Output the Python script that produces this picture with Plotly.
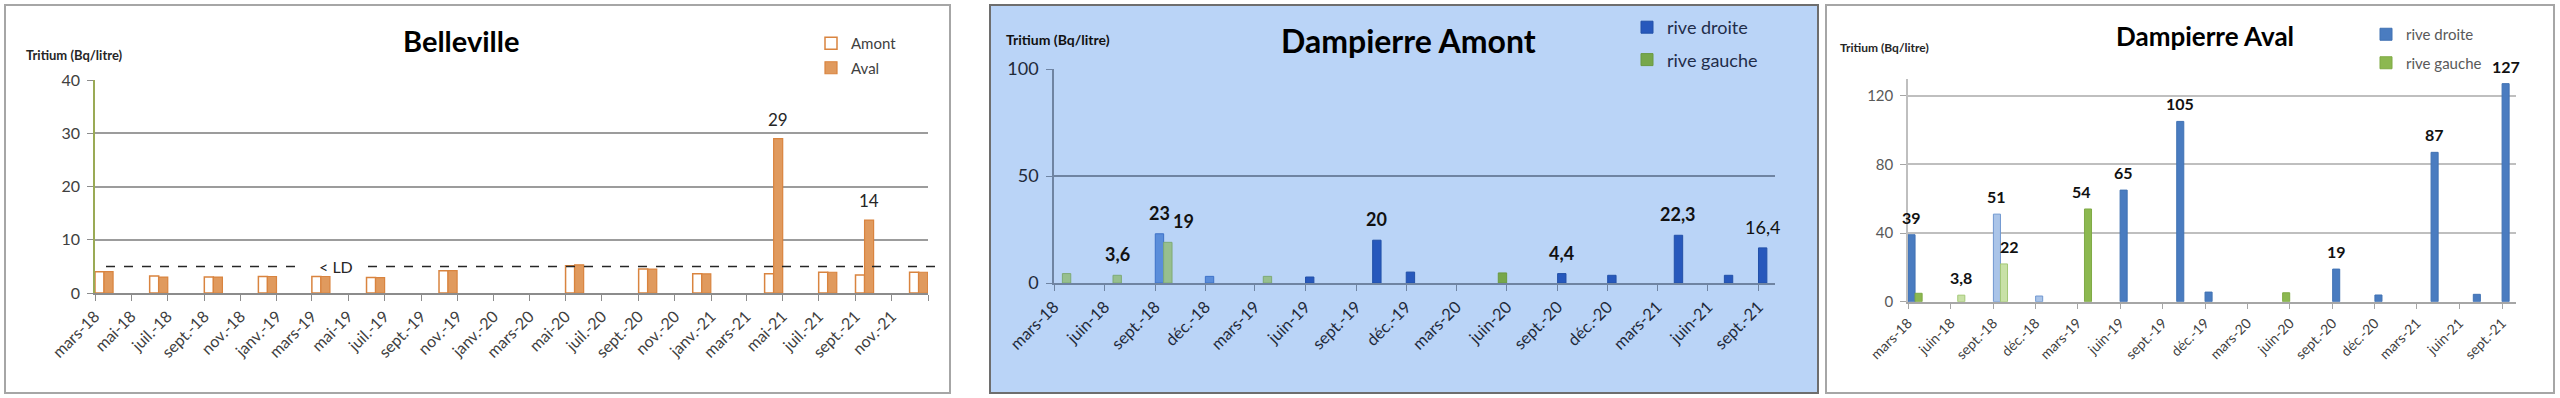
import plotly.graph_objects as go
import pandas as pd

W, H = 2560, 398
FONT = "Lato"

# ---------------- data ----------------
# Belleville (Amont / Aval)
BV_DATES = ["2018-03", "2018-06", "2018-09", "2018-12", "2019-03", "2019-06", "2019-10",
            "2020-05", "2020-09", "2020-12", "2021-04", "2021-07", "2021-09", "2021-12"]
BV_AMONT = [4.0, 3.2, 3.0, 3.1, 3.1, 2.9, 4.2, 5.1, 4.5, 3.6, 3.6, 3.9, 3.4, 3.9]
BV_AVAL = [4.0, 3.0, 3.0, 3.1, 3.1, 2.9, 4.2, 5.3, 4.5, 3.6, 29.0, 3.9, 13.7, 3.9]
BV_AVAL_LABELS = ["", "", "", "", "", "", "", "", "", "", "29", "", "14", ""]
BV_LD = 5
BV_TICKS = ["mars-18", "mai-18", "juil.-18", "sept.-18", "nov.-18", "janv.-19", "mars-19",
            "mai-19", "juil.-19", "sept.-19", "nov.-19", "janv.-20", "mars-20", "mai-20",
            "juil.-20", "sept.-20", "nov.-20", "janv.-21", "mars-21", "mai-21", "juil.-21",
            "sept.-21", "nov.-21"]

# Dampierre Amont
DA_RD_DATES = ["2018-09", "2018-12", "2019-06", "2019-10", "2019-12", "2020-09", "2020-12",
               "2021-04", "2021-07", "2021-09"]
DA_RD = [23, 3.1, 2.8, 20, 5.1, 4.4, 3.6, 22.3, 3.6, 16.4]
DA_RD_LABELS = ["23", "", "", "20", "", "4,4", "", "22,3", "", "16,4"]
DA_RG_DATES = ["2018-03", "2018-06", "2018-09", "2019-03", "2020-05"]
DA_RG = [4.4, 3.6, 19, 3.1, 4.7]
DA_RG_LABELS = ["", "3,6", "19", "", ""]

# Dampierre Aval
DV_RD_DATES = ["2018-03", "2018-09", "2018-12", "2019-06", "2019-10", "2019-12", "2020-09",
               "2020-12", "2021-04", "2021-07", "2021-09"]
DV_RD = [39, 51, 3.3, 65, 105, 5.6, 19, 3.9, 87, 4.3, 127]
DV_RD_LABELS = ["39", "51", "", "65", "105", "", "19", "", "87", "", "127"]
DV_RG_DATES = ["2018-03", "2018-06", "2018-09", "2019-03", "2020-05"]
DV_RG = [4.9, 3.8, 22, 54, 5.2]
DV_RG_LABELS = ["", "3,8", "22", "54", ""]

DAMP_TICKS = ["mars-18", "juin-18", "sept.-18", "déc.-18", "mars-19", "juin-19", "sept.-19",
              "déc.-19", "mars-20", "juin-20", "sept.-20", "déc.-20", "mars-21", "juin-21",
              "sept.-21"]

# ---------------- styling helpers ----------------
MONTH_MS = 30.436875 * 86400000
HALF = MONTH_MS / 2

# style-only sets: lighter bars, plain (non bold) labels, label nudges
DA_RD_FADED = {"2018-09", "2018-12"}
DA_RG_FADED = {"2018-03", "2018-06", "2018-09", "2019-03"}
DV_RD_FADED = {"2018-09", "2018-12"}
DV_RG_FADED = {"2018-06", "2018-09"}
PLAIN_LABELS = {("DA", "16,4")}
LABEL_XSHIFT = {("DA", "19"): 16, ("DV", "22"): 6, ("DV", "54"): -7}


def px(x):
    return x / W


def py(y):
    return 1 - y / H


def month_start(d):
    return d + "-01"


def label_x(d, offset):
    return (pd.Timestamp(month_start(d)) + pd.Timedelta(milliseconds=offset + HALF / 2)).isoformat()


fig = go.Figure()


def add_bars(dates, vals, name, xa, ya, color, line, offset, legend, faded=None,
             fcolor=None, fline=None, lw=1.0, group=None):
    faded = faded or set()
    norm = [(d, v) for d, v in zip(dates, vals) if d not in faded]
    fad = [(d, v) for d, v in zip(dates, vals) if d in faded]
    fig.add_trace(go.Bar(
        x=[month_start(d) for d, _ in norm], y=[v for _, v in norm], name=name,
        xaxis=xa, yaxis=ya, width=HALF, offset=offset,
        marker=dict(color=color, line=dict(color=line, width=lw)),
        legend=legend, legendgroup=group or name, showlegend=True, hoverinfo="x+y"))
    if fad:
        fig.add_trace(go.Bar(
            x=[month_start(d) for d, _ in fad], y=[v for _, v in fad], name=name,
            xaxis=xa, yaxis=ya, width=HALF, offset=offset,
            marker=dict(color=fcolor, line=dict(color=fline, width=lw)),
            legend=legend, legendgroup=group or name, showlegend=False, hoverinfo="x+y"))


# Belleville
BV_OR = "#E09A5E"
BV_ORL = "#D9843F"
add_bars(BV_DATES, BV_AMONT, "Amont", "x", "y", "white", BV_ORL, 0, "legend", lw=1.5)
add_bars(BV_DATES, BV_AVAL, "Aval", "x", "y", BV_OR, BV_ORL, HALF, "legend", lw=1.2)

# Dampierre Amont
add_bars(DA_RD_DATES, DA_RD, "rive droite", "x2", "y2", "#2758BC", "#2250A8", 0, "legend2",
         DA_RD_FADED, "#5A8DDA", "#3E72C8", group="da_rd")
add_bars(DA_RG_DATES, DA_RG, "rive gauche", "x2", "y2", "#77A74B", "#6B9A42", HALF, "legend2",
         DA_RG_FADED, "#97BF8E", "#7EAA76", group="da_rg")

# Dampierre Aval
add_bars(DV_RD_DATES, DV_RD, "rive droite", "x3", "y3", "#4A7CC0", "#4172B3", 0, "legend3",
         DV_RD_FADED, "#AAC4E8", "#7098D0", group="dv_rd")
add_bars(DV_RG_DATES, DV_RG, "rive gauche", "x3", "y3", "#8CB850", "#7FAA45", HALF, "legend3",
         DV_RG_FADED, "#C8E1A6", "#A3C876", group="dv_rg")

# ---------------- annotations ----------------
ann = []


def add_labels(key, dates, vals, labels, xa, ya, offset, size, color, bold, yshift):
    for d, v, t in zip(dates, vals, labels):
        if not t:
            continue
        b = bold and (key, t) not in PLAIN_LABELS
        ann.append(dict(x=label_x(d, offset), y=v, xref=xa, yref=ya, text=("<b>%s</b>" % t) if b else t,
                        showarrow=False, yanchor="bottom", yshift=yshift,
                        xshift=LABEL_XSHIFT.get((key, t), 0),
                        font=dict(family=FONT, size=size, color=color)))


add_labels("BV", BV_DATES, BV_AVAL, BV_AVAL_LABELS, "x", "y", HALF, 17, "#262626", False, 7)
add_labels("DA", DA_RD_DATES, DA_RD, DA_RD_LABELS, "x2", "y2", 0, 18, "#111111", True, 8)
add_labels("DA", DA_RG_DATES, DA_RG, DA_RG_LABELS, "x2", "y2", HALF, 18, "#111111", True, 8)
add_labels("DV", DV_RD_DATES, DV_RD, DV_RD_LABELS, "x3", "y3", 0, 16, "#111111", True, 6)
add_labels("DV", DV_RG_DATES, DV_RG, DV_RG_LABELS, "x3", "y3", HALF, 16, "#111111", True, 6)

# titles
ann += [
    dict(x=px(461), y=py(41), xref="paper", yref="paper", text="<b>Belleville</b>", showarrow=False,
         xanchor="center", yanchor="middle", font=dict(family=FONT, size=29, color="#000000")),
    dict(x=px(1408), y=py(40), xref="paper", yref="paper", text="<b>Dampierre Amont</b>", showarrow=False,
         xanchor="center", yanchor="middle", font=dict(family=FONT, size=32, color="#000000")),
    dict(x=px(2205), y=py(36), xref="paper", yref="paper", text="<b>Dampierre Aval</b>", showarrow=False,
         xanchor="center", yanchor="middle", font=dict(family=FONT, size=26, color="#000000")),
    dict(x=px(24), y=py(55), xref="paper", yref="paper", text="<b>Tritium (Bq/litre)</b>", showarrow=False,
         xanchor="left", yanchor="middle", font=dict(family=FONT, size=13, color="#262626")),
    dict(x=px(1004), y=py(39), xref="paper", yref="paper", text="<b>Tritium (Bq/litre)</b>", showarrow=False,
         xanchor="left", yanchor="middle", font=dict(family=FONT, size=14, color="#111111")),
    dict(x=px(1838), y=py(48), xref="paper", yref="paper", text="<b>Tritium (Bq/litre)</b>", showarrow=False,
         xanchor="left", yanchor="middle", font=dict(family=FONT, size=12, color="#262626")),
    # < LD
    dict(x=px(336), y=BV_LD, xref="paper", yref="y", text="&lt; LD", showarrow=False,
         xanchor="center", yanchor="middle", font=dict(family=FONT, size=16, color="#262626")),
]

# ---------------- shapes ----------------
shapes = [
    dict(type="rect", xref="paper", yref="paper", x0=px(5), x1=px(950), y0=py(393), y1=py(5),
         line=dict(color="#A6A6A6", width=2), fillcolor="white", layer="below"),
    dict(type="rect", xref="paper", yref="paper", x0=px(990), x1=px(1818), y0=py(393), y1=py(5),
         line=dict(color="#6E6E6E", width=2), fillcolor="#BAD4F7", layer="below"),
    dict(type="rect", xref="paper", yref="paper", x0=px(1826), x1=px(2554), y0=py(393), y1=py(5),
         line=dict(color="#A6A6A6", width=2), fillcolor="white", layer="below"),
    dict(type="line", xref="paper", yref="y", x0=px(106), x1=px(304), y0=BV_LD, y1=BV_LD,
         line=dict(color="#262626", width=1.5, dash="dash")),
    dict(type="line", xref="paper", yref="y", x0=px(368), x1=px(938), y0=BV_LD, y1=BV_LD,
         line=dict(color="#262626", width=1.5, dash="dash")),
]


def date_ticks(start, n, step):
    return [d.strftime("%Y-%m-%d") for d in pd.date_range(start, periods=n, freq="%dMS" % step)]


bv_tickvals = date_ticks("2018-03-01", len(BV_TICKS) + 1, 2)
damp_tickvals = date_ticks("2018-03-01", len(DAMP_TICKS), 3)


def xaxis(dom, rng, tickvals, ticktext, lc, tc, size, anchor):
    return dict(domain=dom, type="date", range=rng, tickvals=tickvals, ticktext=ticktext,
                tickangle=-45, ticks="outside", ticklen=6, tickcolor=lc, tickwidth=1.2,
                showline=True, linecolor=lc, linewidth=1.5, showgrid=False, zeroline=False,
                tickfont=dict(family=FONT, size=size, color=tc), fixedrange=True,
                automargin=False, anchor=anchor)


def yaxis(dom, rng, tickvals, lc, axlc, gc, tc, size, anchor):
    return dict(domain=dom, range=rng, tickvals=tickvals, ticks="outside", ticklen=6, tickcolor=lc,
                showline=True, linecolor=axlc, linewidth=1.5, showgrid=True, gridcolor=gc, gridwidth=1.5,
                zeroline=False, tickfont=dict(family=FONT, size=size, color=tc), anchor=anchor,
                fixedrange=True, ticklabelstandoff=4, automargin=False)


layout = dict(
    width=W, height=H, margin=dict(l=0, r=0, t=0, b=0, autoexpand=False),
    paper_bgcolor="white", plot_bgcolor="rgba(0,0,0,0)",
    barmode="overlay", showlegend=True,
    xaxis=xaxis([px(95), px(928)], ["2018-03-01", "2022-01-01"], bv_tickvals, BV_TICKS + [""],
                "#8C8C8C", "#404040", 16, "y"),
    yaxis=yaxis([py(293), py(80)], [0, 40], [0, 10, 20, 30, 40], "#8C8C8C", "#9AAA55", "#9C9C9C",
                "#404040", 16, "x"),
    xaxis2=xaxis([px(1054), px(1775)], ["2018-03-01", "2021-10-01"], damp_tickvals, DAMP_TICKS,
                 "#6F84A2", "#1F2A3A", 16.5, "y2"),
    yaxis2=yaxis([py(283), py(69)], [0, 100], [0, 50, 100], "#6F84A2", "#6F84A2", "#6F84A2",
                 "#1F2A3A", 18, "x2"),
    xaxis3=xaxis([px(1908), px(2516)], ["2018-03-01", "2021-10-01"], damp_tickvals, DAMP_TICKS,
                 "#A6A6A6", "#404040", 14, "y3"),
    yaxis3=yaxis([py(301.7), py(78.5)], [0, 130], [0, 40, 80, 120], "#A6A6A6", "#BFBFBF", "#BFBFBF",
                 "#595959", 15, "x3"),
    legend=dict(x=px(811), y=py(27), xanchor="left", yanchor="top", bgcolor="rgba(0,0,0,0)",
                font=dict(family=FONT, size=15, color="#404040"), tracegroupgap=2, itemwidth=30),
    legend2=dict(x=px(1627), y=py(9), xanchor="left", yanchor="top", bgcolor="rgba(0,0,0,0)",
                 font=dict(family=FONT, size=18, color="#1F2D4A"), tracegroupgap=6, itemwidth=30),
    legend3=dict(x=px(2366), y=py(18), xanchor="left", yanchor="top", bgcolor="rgba(0,0,0,0)",
                 font=dict(family=FONT, size=15, color="#595959"), tracegroupgap=6, itemwidth=30),
    annotations=ann, shapes=shapes,
)
fig.update_layout(**layout)
fig.write_html("out.html", post_script="document.body.style.margin='0';",
               config={"displayModeBar": False})
